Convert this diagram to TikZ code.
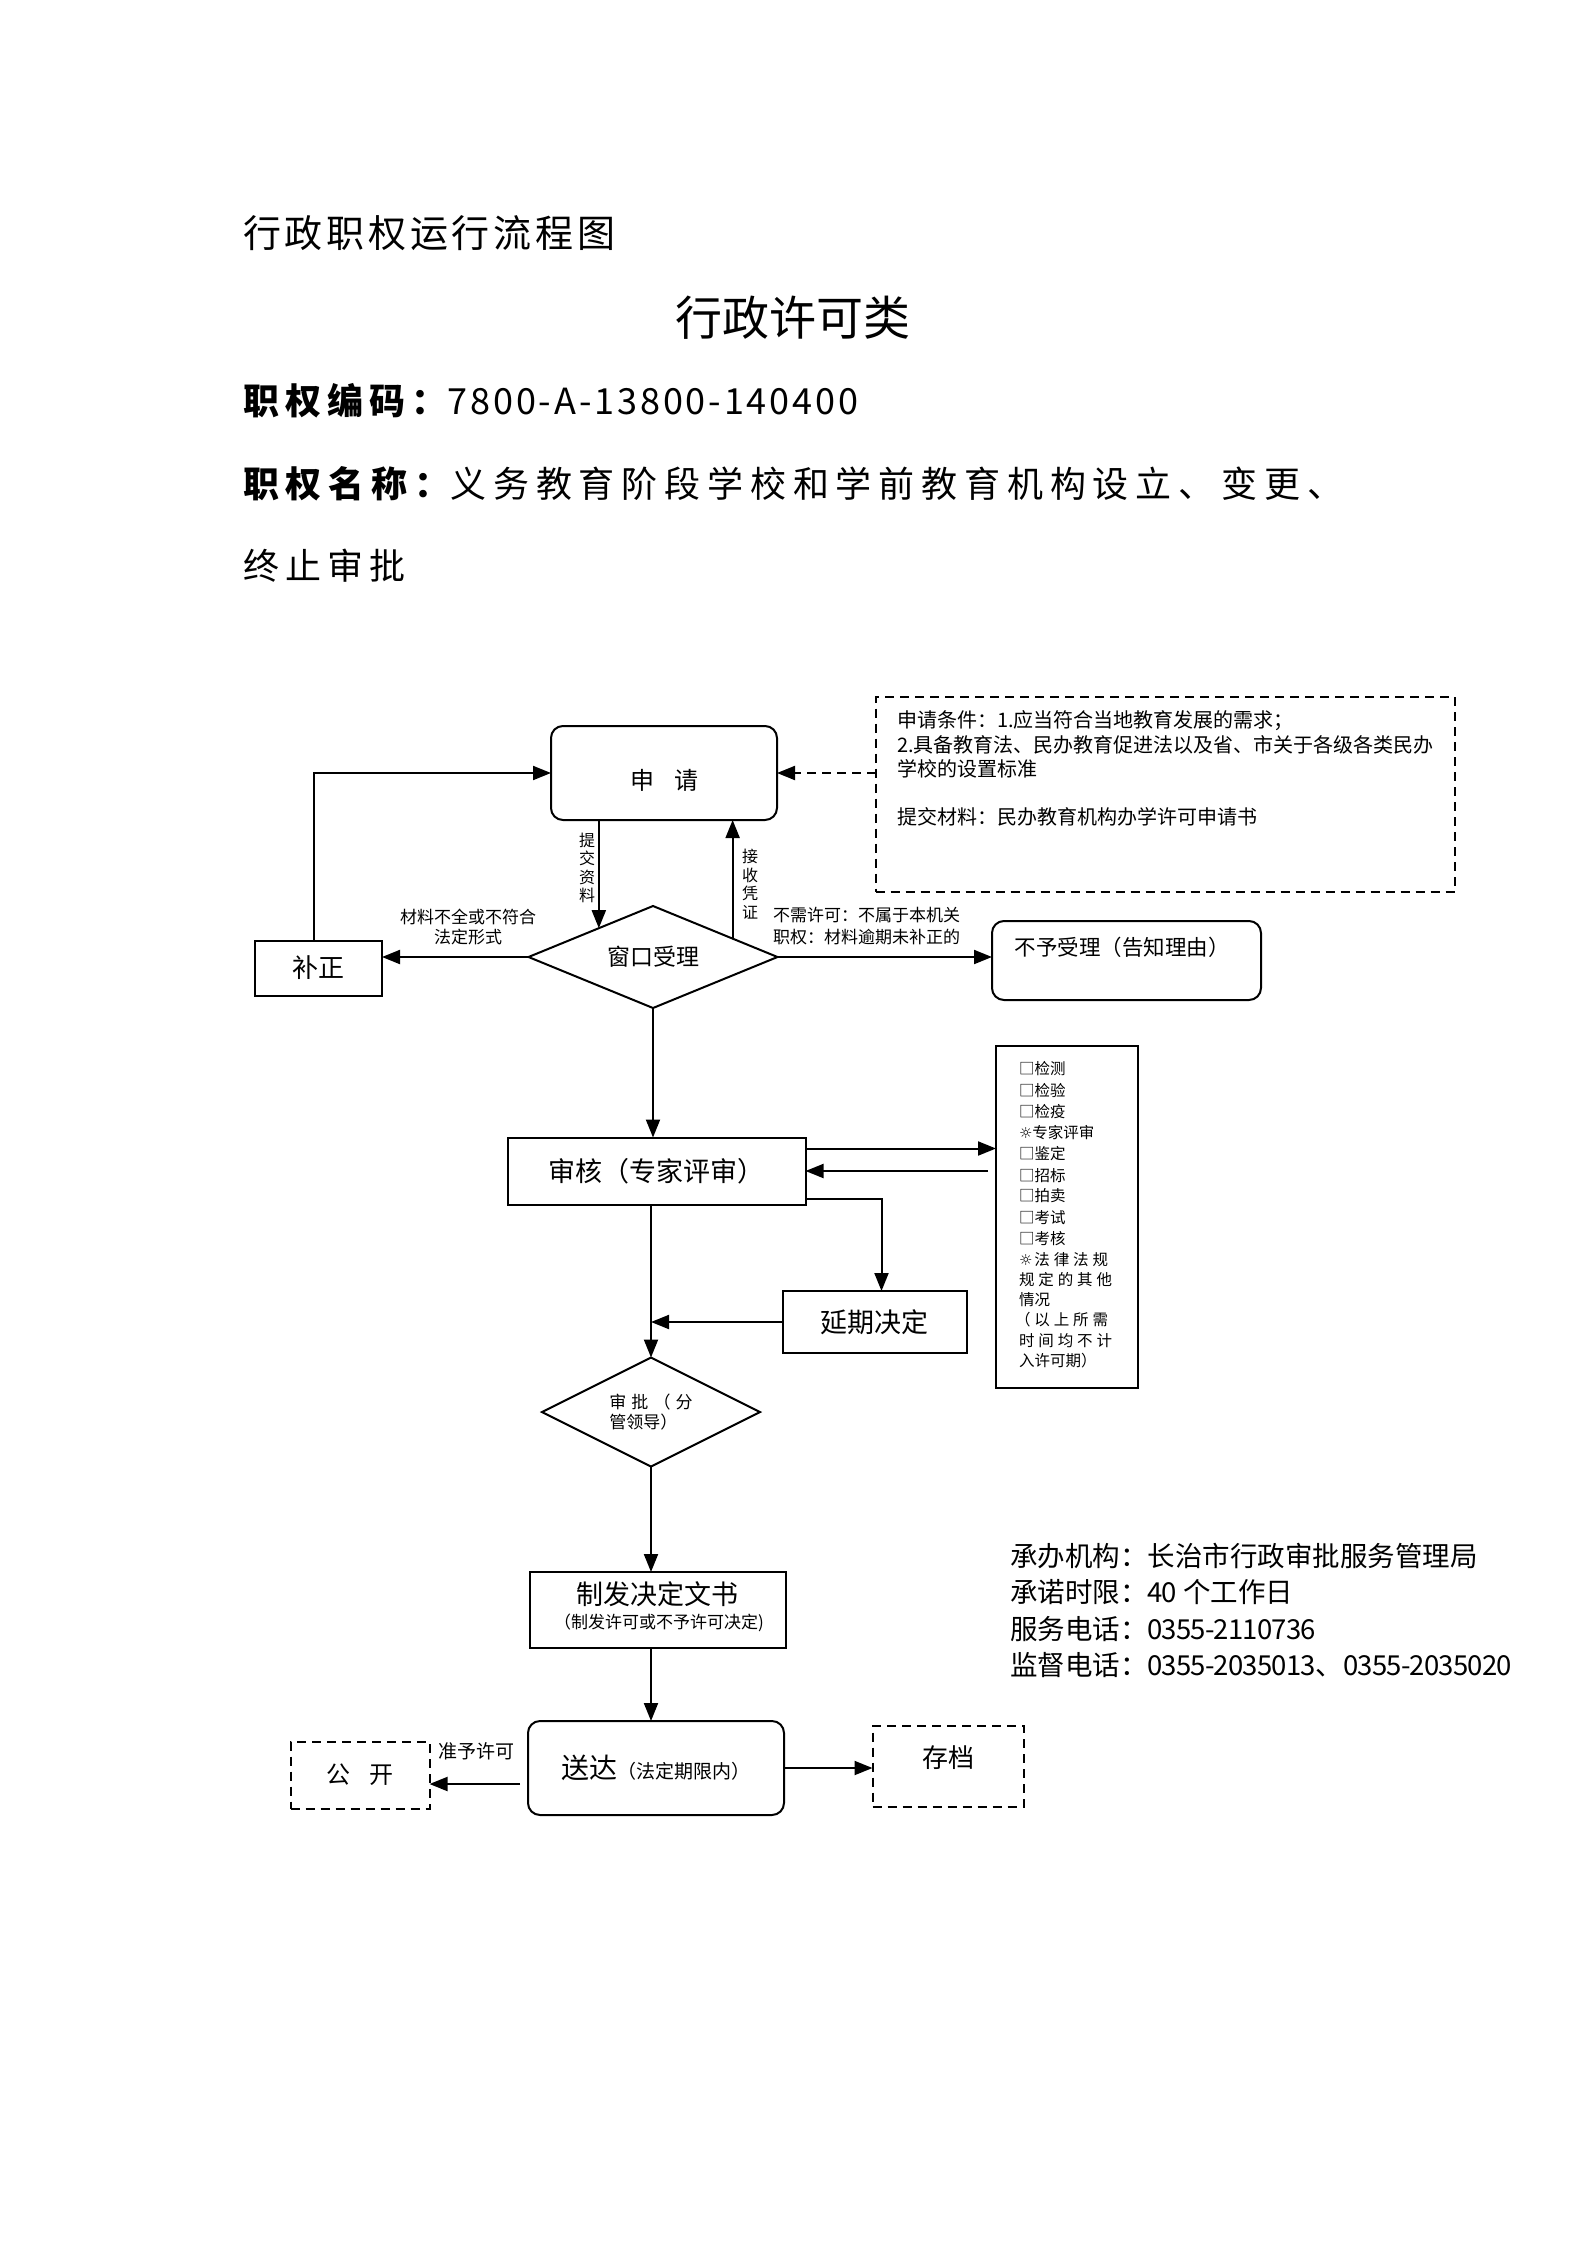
\documentclass[tikz,border=0pt]{standalone}
\usepackage{fontspec}
\setmainfont{Noto Sans CJK SC}
\newfontfamily\symfont{DejaVu Sans}
\usetikzlibrary{arrows.meta,shapes.geometric,calc}
\newcommand\setfs[1]{\fontsize{#1}{#1}\selectfont}
\newcommand\narrow[1]{{\addfontfeatures{LetterSpace=-3}#1}}
\begin{document}
\begin{tikzpicture}[x=1pt,y=-1pt,
  bx/.style={draw, line width=2pt, inner sep=0pt, outer sep=0pt},
  rbx/.style={bx, rounded corners=12pt},
  dbx/.style={bx, dash pattern=on 9pt off 6pt},
  dmd/.style={bx, diamond, aspect=2.4},
  arr/.style={line width=2pt, -{Triangle[length=18pt,width=14pt]}},
  txt/.style={inner sep=0pt, outer sep=0pt},
]
\fill[white] (0,0) rectangle (1587,2245);
\useasboundingbox (0,0) rectangle (1587,2245);

% header
\node[txt, anchor=base west, font={\setfs{38}\addfontfeatures{LetterSpace=10}}] (h1) at (243,247) {行政职权运行流程图};
\node[txt, anchor=base west, font={\setfs{47}}] (h2) at (675,335) {行政许可类};
\node[txt, anchor=base west, font={\setfs{36}}] (h3) at (243,414) {{\bfseries\addfontfeatures{LetterSpace=17}职权编码：}{\addfontfeatures{LetterSpace=8}7800-A-13800-140400}};
\node[txt, anchor=base west, font={\setfs{36}\addfontfeatures{LetterSpace=19}}] (h4) at (243,497) {{\bfseries 职权名称：}义务教育阶段学校和学前教育机构设立、变更、};
\node[txt, anchor=base west, font={\setfs{36}\addfontfeatures{LetterSpace=17}}] (h5) at (243,579) {终止审批};

% nodes
\node[rbx, minimum width=226pt, minimum height=94pt] (sq) at (664,773) {};
\node[txt, font={\setfs{24}}] (sqt) at (664,780) {申\hspace{20pt}请};

\node[dbx, minimum width=579pt, minimum height=195pt] (cond) at (1165,794) {};
\node[txt, anchor=base west, font={\setfs{20}}] (c1) at (897,727) {申请条件：1.应当符合当地教育发展的需求；};
\node[txt, anchor=base west, font={\setfs{20}}] (c2) at (897,752) {2.具备教育法、民办教育促进法以及省、市关于各级各类民办};
\node[txt, anchor=base west, font={\setfs{20}}] (c3) at (897,776) {学校的设置标准};
\node[txt, anchor=base west, font={\setfs{20}}] (c4) at (897,824) {提交材料：民办教育机构办学许可申请书};

\node[bx, minimum width=127pt, minimum height=55pt, font={\setfs{26}}] (bz) at (318.5,968) {补正};
\node[dmd, minimum width=249pt, minimum height=102pt, font={\setfs{23}}] (ck) at (653,957) {窗口受理};
\node[rbx, minimum width=269pt, minimum height=79pt] (by) at (1126.5,960.5) {};
\node[txt, font={\setfs{21.5}}] (byt) at (1122,947) {不予受理（告知理由）};

\node[bx, minimum width=298pt, minimum height=67pt, font={\setfs{27}}] (sh) at (656.5,1171) {审核（专家评审）};
\node[bx, minimum width=142pt, minimum height=342pt] (lst) at (1067,1216.5) {};
\node[bx, minimum width=184pt, minimum height=62pt, font={\setfs{27}}] (yq) at (874.5,1322) {延期决定};
\node[dmd, minimum width=218pt, minimum height=109pt, font={\fontsize{17}{20}\selectfont}, align=left] (sp) at (651,1412) {{\addfontfeatures{LetterSpace=30}审批（分}\\管领导）};

\node[bx, minimum width=256pt, minimum height=76pt] (zf) at (658,1610) {};
\node[txt, font={\setfs{27}}] (zf1) at (657,1594) {制发决定文书};
\node[txt, font={\setfs{17}}] (zf2) at (659,1623) {（制发许可或不予许可决定)};

\node[rbx, minimum width=256pt, minimum height=94pt, font={\setfs{28}}] (sd) at (656,1768) {送达{\setfs{19}（法定期限内）}};
\node[dbx, minimum width=139pt, minimum height=67pt, font={\setfs{24}}] (gk) at (360,1775) {公\hspace{19pt}开};
\node[dbx, minimum width=151pt, minimum height=81pt] (cd) at (948,1766) {};
\node[txt, font={\setfs{26}}] (cdt) at (948,1758) {存档};

% list
\node[txt, anchor=base west, font={\setfs{15.5}}] (l1) at (1019,1074) {□检测};
\node[txt, anchor=base west, font={\setfs{15.5}}] (l2) at (1019,1096) {□检验};
\node[txt, anchor=base west, font={\setfs{15.5}}] (l3) at (1019,1117) {□检疫};
\node[txt, anchor=base west, font={\setfs{15.5}}] (l4) at (1019,1138) {{\symfont\setfs{15}☼}专家评审};
\node[txt, anchor=base west, font={\setfs{15.5}}] (l5) at (1019,1159) {□鉴定};
\node[txt, anchor=base west, font={\setfs{15.5}}] (l6) at (1019,1181) {□招标};
\node[txt, anchor=base west, font={\setfs{15.5}}] (l7) at (1019,1201) {□拍卖};
\node[txt, anchor=base west, font={\setfs{15.5}}] (l8) at (1019,1223) {□考试};
\node[txt, anchor=base west, font={\setfs{15.5}}] (l9) at (1019,1244) {□考核};
\node[txt, anchor=base west, font={\setfs{15.5}\addfontfeatures{LetterSpace=25}}] (l10) at (1019,1265) {{\symfont\setfs{15}☼}\hspace{2pt}法律法规};
\node[txt, anchor=base west, font={\setfs{15.5}\addfontfeatures{LetterSpace=25}}] (l11) at (1019,1285) {规定的其他};
\node[txt, anchor=base west, font={\setfs{15.5}}] (l12) at (1019,1305) {情况};
\node[txt, anchor=base west, font={\setfs{15.5}\addfontfeatures{LetterSpace=25}}] (l13) at (1015,1325) {（以上所需};
\node[txt, anchor=base west, font={\setfs{15.5}\addfontfeatures{LetterSpace=25}}] (l14) at (1019,1346) {时间均不计};
\node[txt, anchor=base west, font={\setfs{15.5}}] (l15) at (1019,1366) {入许可期）};

% labels
\node[txt, font={\fontsize{17}{20}\selectfont}, align=center] (lb1) at (468,927) {材料不全或不符合\\法定形式};
\node[txt, font={\fontsize{17}{22}\selectfont}, align=left, anchor=west] (lb2) at (773,926) {不需许可：不属于本机关\\职权：材料逾期未补正的};
\node[txt, font={\fontsize{16}{18.5}\selectfont}, align=center] (lb3) at (587,868) {提\\交\\资\\料};
\node[txt, font={\fontsize{16}{18.5}\selectfont}, align=center] (lb4) at (750,884) {接\\收\\凭\\证};
\node[txt, font={\setfs{19}}] (lb5) at (476,1751) {准予许可};

% info
\node[txt, anchor=base west, font={\setfs{27.5}}] (i1) at (1010,1566) {承办机构：长治市行政审批服务管理局};
\node[txt, anchor=base west, font={\setfs{27.5}}] (i2) at (1010,1602) {承诺时限：\narrow{40} 个工作日};
\node[txt, anchor=base west, font={\setfs{27.5}}] (i3) at (1010,1639) {服务电话：\narrow{0355-2110736}};
\node[txt, anchor=base west, font={\setfs{27.5}}] (i4) at (1010,1675) {监督电话：\narrow{0355-2035013}、\narrow{0355-2035020}};

% connectors
\draw[arr, dash pattern=on 9pt off 6pt] (cond.west |- sq.east) -- (sq.east);
\draw[arr] ([xshift=-5pt]bz.north) |- (sq.west);
\draw[arr] (sq.south -| ck.152) -- (ck.152);
\draw[arr] (ck.13) -- (ck.13 |- sq.south);
\draw[arr] (ck.west) -- (ck.west -| bz.east);
\draw[arr] (ck.east) -- (ck.east -| by.west);
\draw[arr] (ck.south) -- (ck.south |- sh.north);
\coordinate (sh1) at ([yshift=-11pt]sh.north east);
\draw[arr] (sh1) -- (sh1 -| lst.west);
\coordinate (ls2) at ([xshift=-8pt]lst.west |- sh.east);
\draw[arr] (ls2) -- (sh.east);
\coordinate (sh3) at ([yshift=6pt]sh.south east);
\coordinate (yqn) at ([xshift=7pt]yq.north);
\draw[arr] (sh3) -| (yqn);
\draw[arr] (sp.north |- sh.south) -- (sp.north);
\draw[arr] (yq.west) -- (yq.west -| sp.north);
\draw[arr] (sp.south) -- (sp.south |- zf.north);
\draw[arr] (sp.south |- zf.south) -- (sp.south |- sd.north);
\coordinate (sdl) at ([xshift=-8pt,yshift=-16pt]sd.west);
\draw[arr] (sdl) -- (sdl -| gk.east);
\draw[arr] (sd.east) -- (sd.east -| cd.west);
\end{tikzpicture}
\end{document}
